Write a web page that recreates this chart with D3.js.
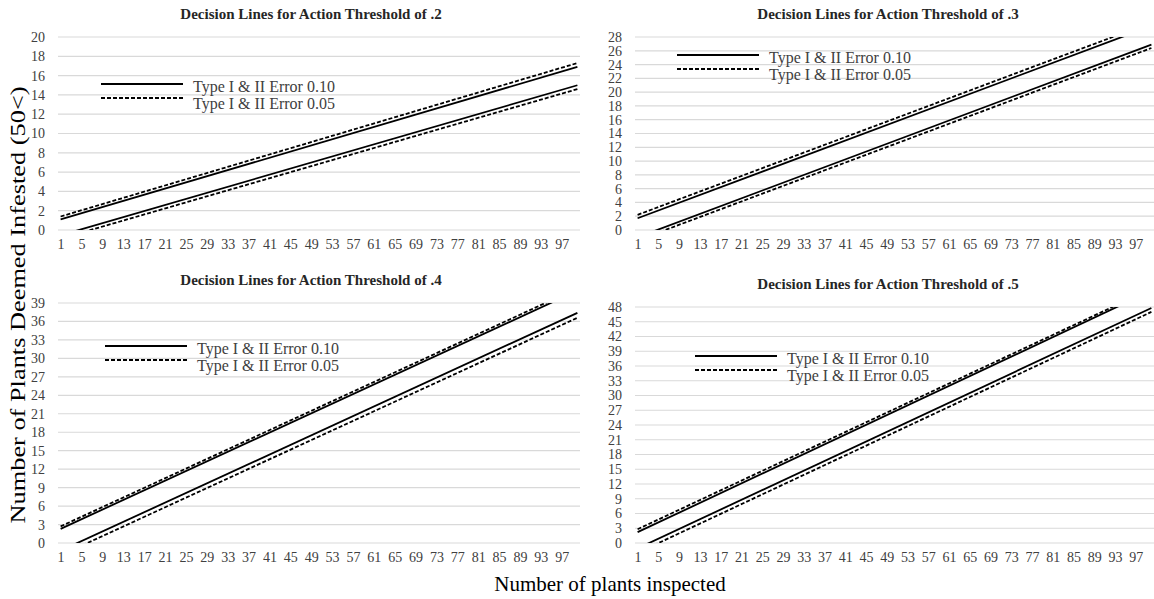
<!DOCTYPE html>
<html>
<head>
<meta charset="utf-8">
<script src="https://cdn.jsdelivr.net/npm/d3@7"></script>
<style>
  body { margin: 0; background: #fff; }
  text { font-family: "Liberation Serif", "Times New Roman", serif; }
</style>
</head>
<body>
<svg id="chart"></svg>
<script>
var width = 1154;
var height = 599;

// categories on the x axis (plants inspected)
var plantCounts = d3.range(1, 101);
var xTickLabels = [1, 5, 9, 13, 17, 21, 25, 29, 33, 37, 41, 45, 49, 53, 57, 61, 65, 69, 73, 77, 81, 85, 89, 93, 97];

var thresholds = ['.2', '.3', '.4', '.5'];
var yMaxes = [20, 28, 39, 48];
var yTickLabels = [
  [0, 2, 4, 6, 8, 10, 12, 14, 16, 18, 20],
  [0, 2, 4, 6, 8, 10, 12, 14, 16, 18, 20, 22, 24, 26, 28],
  [0, 3, 6, 9, 12, 15, 18, 21, 24, 27, 30, 33, 36, 39],
  [0, 3, 6, 9, 12, 15, 18, 21, 24, 27, 30, 33, 36, 39, 42, 45, 48]
];

// decision lines are straight, read at n = 1 and n = 100
var lineEnds = [1, 100];
var upper10 = [[1.1, 16.9], [1.7, 29.6], [2.3, 41.0], [2.2, 51.3]];
var upper05 = [[1.4, 17.3], [2.2, 30.1], [2.7, 41.4], [2.8, 51.7]];
var lower10 = [[-0.55, 15.0], [-1.06, 26.9], [-1.25, 37.4], [-1.1, 47.8]];
var lower05 = [[-0.9, 14.6], [-1.5, 26.4], [-2.0, 36.6], [-2.0, 47.0]];

var legendLabels = ['Type I & II Error 0.10', 'Type I & II Error 0.05'];

// plot areas of the four panels
var panels = [
  { left: 58, right: 580, top: 37, bottom: 230, titleX: 311, titleY: 19, legX: 101, legY: 84 },
  { left: 635, right: 1154, top: 37, bottom: 230, titleX: 888, titleY: 19, legX: 677, legY: 55 },
  { left: 58, right: 580, top: 303, bottom: 543, titleX: 311, titleY: 285, legX: 105, legY: 346 },
  { left: 635, right: 1154, top: 307, bottom: 543, titleX: 888, titleY: 289, legX: 695, legY: 356 }
];

var svg = d3.select('#chart')
  .attr('width', width)
  .attr('height', height);

var defs = svg.append('defs');

panels.forEach(function(p, i) {
  var xScale = d3.scalePoint()
    .domain(plantCounts)
    .range([p.left, p.right])
    .padding(0.5);

  var yScale = d3.scaleLinear()
    .domain([0, yMaxes[i]])
    .range([p.bottom, p.top]);

  var g = svg.append('g').attr('class', 'panel');

  // gridlines
  g.append('g')
    .selectAll('line')
    .data(yTickLabels[i])
    .enter().append('line')
      .attr('x1', p.left)
      .attr('x2', p.right)
      .attr('y1', function(d) { return yScale(d); })
      .attr('y2', function(d) { return yScale(d); })
      .attr('stroke', '#d9d9d9')
      .attr('stroke-width', 1.2);

  // y axis labels
  var yAxis = d3.axisLeft(yScale)
    .tickValues(yTickLabels[i])
    .tickSize(0)
    .tickPadding(8);
  g.append('g')
    .attr('transform', 'translate(' + (p.left - 5) + ',0)')
    .call(yAxis)
    .call(function(a) { a.select('.domain').remove(); })
    .selectAll('text')
      .attr('font-size', '14px')
      .attr('fill', '#404040')
      .style('font-family', '"Liberation Serif", serif');

  // x axis labels
  var xAxis = d3.axisBottom(xScale)
    .tickValues(xTickLabels)
    .tickSize(0)
    .tickPadding(9);
  g.append('g')
    .attr('transform', 'translate(0,' + p.bottom + ')')
    .call(xAxis)
    .call(function(a) { a.select('.domain').remove(); })
    .selectAll('text')
      .attr('font-size', '14px')
      .attr('fill', '#404040')
      .style('font-family', '"Liberation Serif", serif');

  // title
  g.append('text')
    .attr('x', p.titleX)
    .attr('y', p.titleY)
    .attr('text-anchor', 'middle')
    .attr('font-size', '15px')
    .attr('font-weight', 'bold')
    .attr('fill', '#262626')
    .text('Decision Lines for Action Threshold of ' + thresholds[i]);

  // clip to plot area
  defs.append('clipPath')
    .attr('id', 'clip-' + i)
    .append('rect')
      .attr('x', p.left)
      .attr('y', p.top)
      .attr('width', p.right - p.left)
      .attr('height', p.bottom - p.top);

  var line = d3.line()
    .x(function(d) { return xScale(d[0]); })
    .y(function(d) { return yScale(d[1]); });

  var series = [
    { values: upper05[i], dash: '4,2' },
    { values: lower05[i], dash: '4,2' },
    { values: upper10[i], dash: null },
    { values: lower10[i], dash: null }
  ];

  g.append('g')
    .attr('clip-path', 'url(#clip-' + i + ')')
    .selectAll('path')
    .data(series)
    .enter().append('path')
      .attr('d', function(s) {
        return line(lineEnds.map(function(n, k) { return [n, s.values[k]]; }));
      })
      .attr('fill', 'none')
      .attr('stroke', '#000')
      .attr('stroke-width', 1.8)
      .attr('stroke-dasharray', function(s) { return s.dash; });

  // legend
  var leg = g.append('g')
    .attr('transform', 'translate(' + p.legX + ',' + p.legY + ')');
  legendLabels.forEach(function(label, k) {
    leg.append('line')
      .attr('x1', 0)
      .attr('x2', 82)
      .attr('y1', k * 14)
      .attr('y2', k * 14)
      .attr('stroke', '#000')
      .attr('stroke-width', 2)
      .attr('stroke-dasharray', k == 1 ? '4,2' : null);
    leg.append('text')
      .attr('x', 92)
      .attr('y', k * 17 + 8)
      .attr('font-size', '16px')
      .attr('fill', '#404040')
      .text(label);
  });
});

// axis titles
svg.append('text')
  .attr('transform', 'translate(25,305) rotate(-90)')
  .attr('text-anchor', 'middle')
  .attr('font-size', '21px')
  .attr('textLength', 437)
  .attr('lengthAdjust', 'spacingAndGlyphs')
  .attr('fill', '#000')
  .text('Number of Plants Deemed Infested (50<)');

svg.append('text')
  .attr('x', 610)
  .attr('y', 591)
  .attr('text-anchor', 'middle')
  .attr('font-size', '21px')
  .attr('fill', '#000')
  .text('Number of plants inspected');
</script>
</body>
</html>
